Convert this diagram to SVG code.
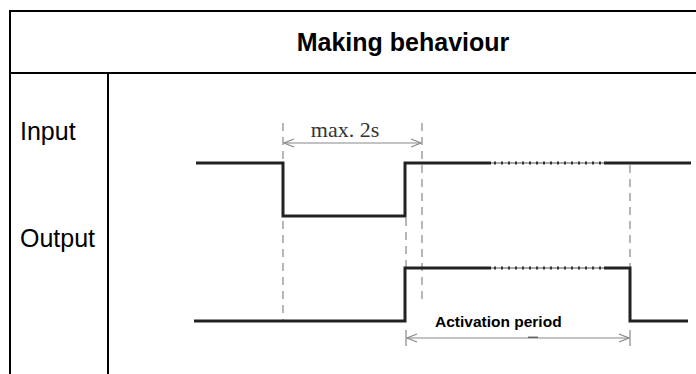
<svg xmlns="http://www.w3.org/2000/svg" width="696" height="374" viewBox="0 0 696 374">
  <defs>
    <style>
      .frame { stroke: #000; stroke-width: 2; fill: none; }
      .sig { stroke: #222; stroke-width: 3; fill: none; stroke-linejoin: miter; }
      .dots { stroke: #333; stroke-width: 3; stroke-dasharray: 2 5; fill: none; }
      .thin { stroke: #555; stroke-width: 1; fill: none; }
      .guide { stroke: #888; stroke-width: 1.2; stroke-dasharray: 8 6; fill: none; }
      .dim { stroke: #888; stroke-width: 1.2; fill: none; }
      .head { stroke: #888; stroke-width: 1.2; fill: none; }
      .label { font-family: "Liberation Sans", Arial, sans-serif; fill: #000; }
    </style>
    <marker id="open" viewBox="0 0 12 10" refX="11" refY="5" markerWidth="12" markerHeight="10" markerUnits="userSpaceOnUse" orient="auto-start-reverse">
      <path d="M1 1 L11 5 L1 9" class="head"/>
    </marker>
  </defs>
  <rect width="696" height="374" fill="#fff"/>

  <!-- table frame -->
  <g id="frame">
    <path class="frame" d="M10 374 V11 H696 M10 73 H696 M108 73 V374"/>
  </g>

  <g id="title">
    <text class="label" x="403" y="51" font-size="25" font-weight="bold" text-anchor="middle">Making behaviour</text>
  </g>

  <g id="row-labels">
    <text class="label" x="20" y="140" font-size="25">Input</text>
    <text class="label" x="20" y="247" font-size="25">Output</text>
  </g>

  <!-- timing guide lines -->
  <g id="guides">
    <line class="guide" x1="283" y1="123" x2="283" y2="321"/>
    <line class="guide" x1="422" y1="123" x2="422" y2="304"/>
    <line class="guide" x1="406" y1="218" x2="406" y2="267"/>
    <line class="guide" x1="630" y1="165" x2="630" y2="267"/>
  </g>

  <!-- input signal -->
  <g id="input">
    <polyline class="sig" points="196,163 283,163 283,216 405,216 405,163 491,163"/>
    <line class="thin" x1="491" y1="163" x2="604" y2="163"/>
    <line class="dots" x1="494" y1="163" x2="604" y2="163"/>
    <line class="sig" x1="604" y1="163" x2="691" y2="163"/>
  </g>

  <!-- output signal -->
  <g id="output">
    <polyline class="sig" points="194,321 405,321 405,268 491,268"/>
    <line class="thin" x1="491" y1="268" x2="604" y2="268"/>
    <line class="dots" x1="494" y1="268" x2="604" y2="268"/>
    <polyline class="sig" points="604,268 630,268 630,321 688,321"/>
  </g>

  <!-- dimension: max. 2s -->
  <g id="dim-max">
    <line class="dim" x1="284" y1="143" x2="421" y2="143" marker-start="url(#open)" marker-end="url(#open)"/>
    <text x="345" y="137" font-family="Liberation Serif, Times New Roman, serif" font-size="22" fill="#333" text-anchor="middle">max. 2s</text>
  </g>

  <!-- dimension: activation period -->
  <g id="dim-activation">
    <line class="dim" x1="406" y1="330" x2="406" y2="346"/>
    <line class="dim" x1="630" y1="330" x2="630" y2="346"/>
    <line class="dim" x1="407" y1="338" x2="629" y2="338" marker-start="url(#open)" marker-end="url(#open)"/>
    <line x1="528" y1="337.3" x2="538" y2="337.3" stroke="#666" stroke-width="1.5"/>
    <text class="label" x="435" y="327" font-size="15.5" font-weight="bold">Activation period</text>
  </g>
</svg>
